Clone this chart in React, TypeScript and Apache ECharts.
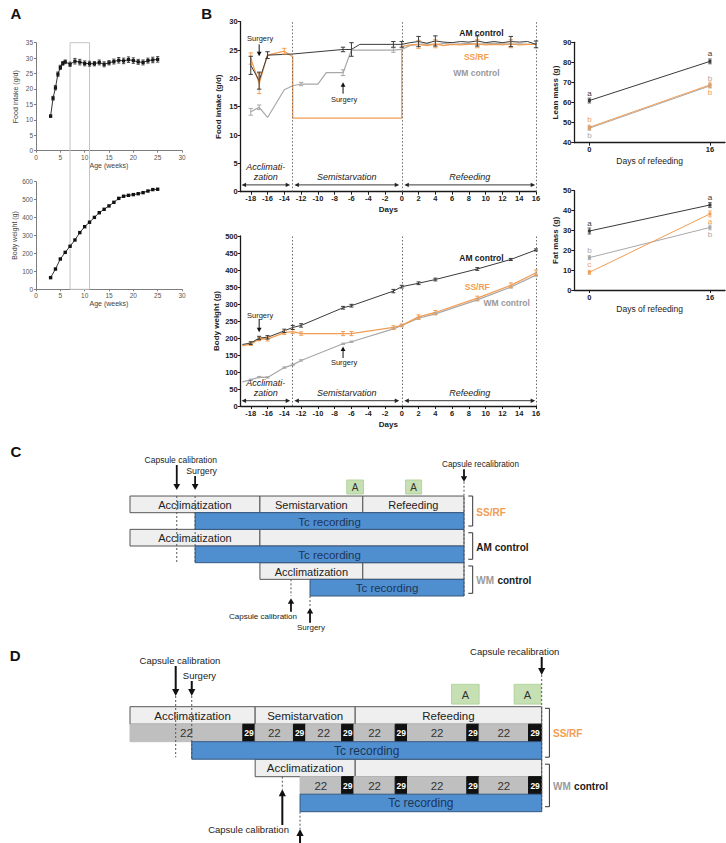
import React, { useEffect, useRef } from 'react';
import * as echarts from 'echarts';

const FONT = '"Liberation Sans", Arial, Helvetica, sans-serif';
const AM_COLOR = '#3a3a3a';
const SS_COLOR = '#f29d52';
const WM_COLOR = '#a8a8a8';

// ---------- A: colony growth ----------
const ageFoodWeeks = [3, 3.5, 4, 4.5, 5, 5.5, 6, 7, 8, 9, 10, 11, 12, 13, 14, 15, 16, 17, 18, 19, 20, 21, 22, 23, 24, 25];
const foodIntakeByAge = [11.2, 17.0, 20.4, 24.8, 27.0, 28.3, 28.8, 28.0, 29.0, 28.7, 28.3, 28.2, 28.2, 28.6, 28.0, 28.5, 28.9, 29.3, 29.1, 29.5, 29.2, 28.8, 28.6, 29.2, 29.4, 29.6];
const foodIntakeSem = [0.4, 0.6, 0.7, 0.7, 0.7, 0.6, 0.6, 0.7, 0.9, 0.9, 0.8, 0.8, 0.7, 0.8, 0.8, 0.7, 0.8, 0.9, 0.9, 0.9, 0.9, 0.8, 0.8, 0.8, 0.9, 0.9];
const ageWeightWeeks = [3, 4, 5, 6, 7, 8, 9, 10, 11, 12, 13, 14, 15, 16, 17, 18, 19, 20, 21, 22, 23, 24, 25];
const bodyWeightByAge = [65, 113, 169, 206, 240, 275, 316, 349, 374, 401, 427, 446, 465, 485, 507, 519, 524, 528, 533, 539, 548, 556, 558];
const selectedAgeWindow = [7, 11];

// ---------- B: food intake (g/d) ----------
const amFoodDays = [-18, -17, -16, -13, -7, -6, -5, -1, 0, 1, 2, 3, 4, 5, 6, 7, 8, 9, 10, 11, 12, 13, 14, 15, 16];
const amFood = [22.3, 19.6, 24.1, 24.3, 25.1, 25.1, 26.0, 26.0, 26.0, 26.3, 26.5, 26.2, 26.6, 26.4, 26.3, 26.5, 26.4, 26.6, 26.3, 26.5, 26.3, 26.5, 26.4, 26.5, 26.0];
const amFoodSem = [1.6, 1.5, 0.6, null, 0.4, 1.2, null, 0.5, 0.5, null, 0.9, null, 0.9, null, null, null, null, 0.9, null, null, null, 0.9, null, null, 0.6];
const ssFoodDays = [-18, -17, -16, -14, -13, -13, 0, 0, 1, 2, 3, 4, 5, 6, 7, 8, 9, 10, 11, 12, 13, 14, 15, 16];
const ssFood = [23.5, 19.1, 24.1, 24.8, 23.8, 13.0, 13.0, 25.6, 25.9, 26.0, 25.8, 26.1, 25.8, 26.0, 25.9, 26.0, 26.1, 25.9, 26.0, 25.9, 26.1, 25.9, 26.0, 26.0];
const ssFoodSem = [1.0, 1.8, null, 0.5, null, null, null, null, null, 0.7, null, 0.7, null, null, null, null, 0.7, null, null, null, 0.7, null, null, null];
const wmFoodDays = [-18, -17, -16, -14, -13, -12, -10, -9, -7, -6, -1, 0, 1, 2, 3, 4, 5, 6, 7, 8, 9, 10, 11, 12, 13, 14, 15, 16];
const wmFood = [14.1, 14.9, 13.1, 18.0, 18.7, 19.0, 19.0, 21.0, 21.0, 25.0, 25.0, 25.1, 25.8, 26.0, 26.1, 25.9, 26.2, 26.0, 26.1, 26.2, 26.0, 26.1, 26.2, 26.1, 26.0, 26.1, 26.0, 26.0];
const wmFoodSem = [0.6, 0.4, null, null, null, 0.3, null, null, 0.5, null, 0.4, null, null, null, null, null, null, null, null, null, null, null, null, null, null, null, null, null];

// ---------- B: body weight (g) ----------
const weightDays = [-19, -18, -17, -16, -14, -13, -12, -7, -6, -1, 0, 2, 4, 9, 13, 16];
const amWeight = [181, 185, 200, 202, 221, 231, 237, 289, 295, 338, 351, 361, 372, 403, 431, 459];
const ssWeight = [177, 182, 197, 197, 216, 219, 213, 213, 213, 231, 237, 262, 275, 317, 355, 392];
const wmWeight = [71, 77, 85, 84, 113, 121, 134, 183, 189, 227, 237, 258, 271, 312, 350, 385];
const amWeightSem = [null, 4, 5, 5, 5, 6, 5, 4, 4, 5, 4, 4, 4, 4, 3, 3];
const ssWeightSem = [null, 4, 5, 6, 6, 6, 5, 6, 6, 5, 4, 6, 6, 6, 7, 8];
const wmWeightSem = [null, 2, 2, 2, 2, 2, 2, 2, 2, 2, 2, 3, 3, 3, 3, 3];

const dayTicks = [-18, -16, -14, -12, -10, -8, -6, -4, -2, 0, 2, 4, 6, 8, 10, 12, 14, 16];
const phaseBoundaries = [-13, 0, 16];
const protocolPhases = [
  { label: 'Acclimati-\nzation', from: -19.1, to: -13.3 },
  { label: 'Semistarvation', from: -12.8, to: -0.3 },
  { label: 'Refeeding', from: 0.3, to: 15.9 },
];

// ---------- B: body composition ----------
const refeedDays = [0, 16];
const leanAm = [61.0, 80.5];
const leanSs = [47.7, 68.8];
const leanWm = [47.2, 68.3];
const leanAmSem = [1.2, 1.2];
const leanSsSem = [1.0, 1.4];
const leanWmSem = [1.0, 1.0];
const leanLettersAm = ['a', 'a'];
const leanLettersSs = ['b', 'b'];
const leanLettersWm = ['b', 'b'];
const fatAm = [29.7, 42.8];
const fatSs = [8.9, 38.3];
const fatWm = [16.3, 31.5];
const fatAmSem = [1.5, 1.2];
const fatSsSem = [1.0, 1.5];
const fatWmSem = [1.0, 1.2];
const fatLettersAm = ['a', 'a'];
const fatLettersSs = ['c', 'a'];
const fatLettersWm = ['b', 'b'];

// ---------- C: protocol schedule (position along schematic, 0–100) ----------
// [start, end, row, label]
const cPhases: [number, number, number, string][] = [
  [0, 38.9, 0, 'Acclimatization'],
  [38.9, 69.7, 0, 'Semistarvation'],
  [69.7, 100, 0, 'Refeeding'],
  [0, 38.9, 2, 'Acclimatization'],
  [38.9, 100, 2, ''],
  [38.9, 69.7, 4, 'Acclimatization'],
  [69.7, 100, 4, ''],
];
const cRecordings: [number, number, number][] = [[19.5, 100, 1], [19.5, 100, 3], [53.9, 100, 5]];
const cAssays: [number, number][] = [[64.9, 69.9], [82.5, 87.3]];
const cMarkersTop = [
  { x: 14.0, label: 'Capsule calibration' },
  { x: 19.5, label: 'Surgery' },
  { x: 100, label: 'Capsule recalibration' },
];
const cMarkersBottom = [
  { x: 48.2, label: 'Capsule calibration' },
  { x: 53.9, label: 'Surgery' },
];
const cGroups = ['SS/RF', 'AM control', 'WM control'];

// ---------- D: schedule with ambient temperature (°C) ----------
const dPhases: [number, number, number, string][] = [
  [0, 30.4, 0, 'Acclimatization'],
  [30.4, 54.7, 0, 'Semistarvation'],
  [54.7, 100, 0, 'Refeeding'],
  [30.4, 54.7, 3, 'Acclimatization'],
  [54.7, 100, 3, ''],
];
const dTemperatures: [number, number, number, number][] = [
  [0, 27.4, 1, 22], [27.4, 30.4, 1, 29], [30.4, 39.7, 1, 22], [39.7, 42.7, 1, 29],
  [42.7, 51.4, 1, 22], [51.4, 54.4, 1, 29], [54.4, 64.4, 1, 22], [64.4, 67.4, 1, 29],
  [67.4, 81.8, 1, 22], [81.8, 84.8, 1, 29], [84.8, 96.8, 1, 22], [96.8, 100, 1, 29],
  [41.3, 51.4, 4, 22], [51.4, 54.4, 4, 29], [54.4, 64.4, 4, 22], [64.4, 67.4, 4, 29],
  [67.4, 81.8, 4, 22], [81.8, 84.8, 4, 29], [84.8, 96.8, 4, 22], [96.8, 100, 4, 29],
];
const dRecordings: [number, number, number][] = [[15.0, 100, 2], [41.3, 100, 5]];
const dAssays: [number, number][] = [[78.1, 84.8], [93.3, 99.8]];
const dMarkersTop = [
  { x: 11.1, label: 'Capsule calibration' },
  { x: 15.0, label: 'Surgery' },
  { x: 100, label: 'Capsule recalibration' },
];
const dMarkersBottom = [
  { x: 37.0, label: 'Capsule calibration' },
  { x: 41.3, label: '' },
];
const dGroups = ['SS/RF', 'WM control'];

// ---------- helpers ----------
const pairs = (xs: number[], ys: number[]) => xs.map((x, i) => [x, ys[i]]);
const bars = (xs: number[], ys: number[], sem: (number | null)[]) =>
  xs.map((x, i) => (sem[i] == null ? null : [x, ys[i] - (sem[i] as number), ys[i] + (sem[i] as number)])).filter(Boolean);

function errorBars(axis: number, data: any[], color: string, cap = 2.5, width = 1) {
  return {
    type: 'custom', xAxisIndex: axis, yAxisIndex: axis, data, silent: true, z: 5, clip: false,
    encode: { x: 0, y: [1, 2] },
    renderItem: (_p: any, api: any) => {
      const x = api.value(0);
      const lo = api.coord([x, api.value(1)]);
      const hi = api.coord([x, api.value(2)]);
      const style = { stroke: color, lineWidth: width };
      return {
        type: 'group', children: [
          { type: 'line', shape: { x1: lo[0], y1: lo[1], x2: hi[0], y2: hi[1] }, style },
          { type: 'line', shape: { x1: lo[0] - cap, y1: lo[1], x2: lo[0] + cap, y2: lo[1] }, style },
          { type: 'line', shape: { x1: hi[0] - cap, y1: hi[1], x2: hi[0] + cap, y2: hi[1] }, style },
        ],
      };
    },
  };
}

function lineSeries(axis: number, data: any[], color: string, width: number, extra: any = {}) {
  return {
    type: 'line', xAxisIndex: axis, yAxisIndex: axis, data, symbol: 'none', silent: true, z: 4,
    lineStyle: { color, width }, itemStyle: { color }, ...extra,
  };
}

function segmentSeries(axis: number, segs: any[], draw: (seg: any) => { fill: string; stroke: string; text: string; textStyle: any }) {
  return {
    type: 'custom', xAxisIndex: axis, yAxisIndex: axis, silent: true, z: 3, clip: false,
    data: segs.map((s) => [s[0], s[2], s[1]]),
    encode: { x: [0, 2], y: 1 },
    renderItem: (p: any, api: any) => {
      const seg = segs[p.dataIndex];
      const a = api.coord([seg[0], seg[2]]);
      const b = api.coord([seg[1], seg[2] + 1]);
      const d = draw(seg);
      return {
        type: 'group', children: [
          { type: 'rect', shape: { x: a[0], y: a[1], width: b[0] - a[0], height: b[1] - a[1] }, style: { fill: d.fill, stroke: d.stroke, lineWidth: 1 } },
          { type: 'text', style: { text: d.text, x: (a[0] + b[0]) / 2, y: (a[1] + b[1]) / 2 + 0.5, align: 'center', verticalAlign: 'middle', fontFamily: FONT, ...d.textStyle } },
        ],
      };
    },
  };
}

function assaySeries(axis: number, boxes: [number, number][], yTop: number, yBottom: number, fontSize: number) {
  return {
    type: 'custom', xAxisIndex: axis, yAxisIndex: axis, silent: true, z: 3, clip: false,
    data: boxes.map((b) => [b[0], yTop, b[1]]),
    encode: { x: [0, 2], y: 1 },
    renderItem: (p: any, api: any) => {
      const box = boxes[p.dataIndex];
      const a = api.coord([box[0], yTop]);
      const b = api.coord([box[1], yBottom]);
      return {
        type: 'group', children: [
          { type: 'rect', shape: { x: a[0], y: a[1], width: b[0] - a[0], height: b[1] - a[1] }, style: { fill: '#c6e0b4', stroke: '#b2d59b', lineWidth: 1 } },
          { type: 'text', style: { text: 'A', x: (a[0] + b[0]) / 2, y: (a[1] + b[1]) / 2 + 0.5, align: 'center', verticalAlign: 'middle', fontFamily: FONT, fontSize, fill: '#333' } },
        ],
      };
    },
  };
}

const phaseDraw = (size: number) => (seg: any) => ({ fill: '#efefef', stroke: '#555', text: seg[3], textStyle: { fontSize: size, fill: '#222' } });
const recordingDraw = (size: number) => () => ({ fill: '#4f8fd0', stroke: '#36587f', text: 'Tc recording', textStyle: { fontSize: size, fill: '#1d3557' } });
const temperatureDraw = (seg: any) =>
  seg[3] >= 29
    ? { fill: '#111111', stroke: '#111111', text: String(seg[3]), textStyle: { fontSize: 8.5, fontWeight: 'bold', fill: '#ffffff' } }
    : { fill: '#bfbfbf', stroke: '#bfbfbf', text: String(seg[3]), textStyle: { fontSize: 11.5, fill: '#333' } };

// axis styles
const aAxis = (grid: number, min: number, max: number, interval: number, name: string, isY: boolean) => ({
  gridIndex: grid, type: 'value', min, max, interval, name, nameLocation: 'middle',
  nameGap: isY ? 17 : 11, nameRotate: isY ? 90 : 0,
  nameTextStyle: { fontFamily: FONT, fontSize: 7, color: '#444' },
  axisLine: { show: true, onZero: false, lineStyle: { color: '#7d7d7d', width: 1 } },
  axisTick: { show: true, length: 2, lineStyle: { color: '#7d7d7d' } },
  axisLabel: { fontFamily: FONT, fontSize: 6.5, color: '#555', margin: 3 },
  splitLine: { show: false },
});

const bLine = { show: true, onZero: false, lineStyle: { color: '#1a1a1a', width: 1.3 } };
const bTick = { show: true, length: 3, lineStyle: { color: '#1a1a1a', width: 1 } };
const bLabel = { fontFamily: FONT, fontSize: 7.5, fontWeight: 'bold', color: '#222', margin: 3 };
const bName = { fontFamily: FONT, fontSize: 8, fontWeight: 'bold', color: '#222' };

const bY = (grid: number, min: number, max: number, interval: number, name: string, gap: number) => ({
  gridIndex: grid, type: 'value', min, max, interval, name, nameLocation: 'middle', nameGap: gap, nameRotate: 90,
  nameTextStyle: bName, axisLine: bLine, axisTick: bTick, axisLabel: bLabel, splitLine: { show: false },
});
const bX = (grid: number, min: number, max: number, ticks: number[], name: string, gap: number, nameStyle: any) => ({
  gridIndex: grid, type: 'value', min, max, name, nameLocation: 'middle', nameGap: gap, nameTextStyle: nameStyle,
  axisLine: bLine, axisTick: { ...bTick, customValues: ticks }, axisLabel: { ...bLabel, customValues: ticks },
  splitLine: { show: false },
});
const hiddenAxis = (grid: number, min: number, max: number, inverse = false) => ({
  gridIndex: grid, type: 'value', min, max, inverse, show: false, splitLine: { show: false },
});

function groupSeries(axis: number, ys: number[], sem: number[], letters: string[], sides: string[], color: string) {
  return [
    {
      type: 'line', xAxisIndex: axis, yAxisIndex: axis, silent: true, z: 4,
      data: refeedDays.map((d, i) => ({
        value: [d, ys[i]],
        label: { show: true, formatter: letters[i], position: sides[i], distance: 2, color, fontSize: 8, fontFamily: FONT },
      })),
      symbol: 'rect', symbolSize: 3, lineStyle: { color, width: 1 }, itemStyle: { color },
    },
    errorBars(axis, refeedDays.map((d, i) => [d, ys[i] - sem[i], ys[i] + sem[i]]), color, 1.8, 0.8),
  ];
}

function buildOption() {
  const gridBase = { outerBoundsMode: 'none', containLabel: false, show: false };
  return {
    animation: false,
    backgroundColor: '#ffffff',
    grid: [
      { ...gridBase, left: 36, top: 42.7, width: 146, height: 108 },
      { ...gridBase, left: 36, top: 181.7, width: 146, height: 107.6 },
      { ...gridBase, left: 240.7, top: 21.7, width: 295.3, height: 170 },
      { ...gridBase, left: 240.7, top: 236, width: 295.3, height: 170 },
      { ...gridBase, left: 574.3, top: 42.3, width: 150.7, height: 100.4 },
      { ...gridBase, left: 574.3, top: 190.7, width: 150.7, height: 99.3 },
      { ...gridBase, left: 130, top: 462.7, width: 334, height: 133.3 },
      { ...gridBase, left: 130, top: 671.7, width: 411.7, height: 140 },
    ],
    xAxis: [
      aAxis(0, 0, 30, 5, 'Age (weeks)', false),
      aAxis(1, 0, 30, 5, 'Age (weeks)', false),
      bX(2, -19.2, 16, dayTicks, 'Days', 14, bName),
      bX(3, -19.2, 16, dayTicks, 'Days', 14, bName),
      bX(4, -2, 18, refeedDays, 'Days of refeeding', 14, { fontFamily: FONT, fontSize: 8.5, color: '#222' }),
      bX(5, -2, 18, refeedDays, 'Days of refeeding', 14, { fontFamily: FONT, fontSize: 8.5, color: '#222' }),
      hiddenAxis(6, 0, 100),
      hiddenAxis(7, 0, 100),
    ],
    yAxis: [
      aAxis(0, 0, 35, 5, 'Food intake (g/d)', true),
      aAxis(1, 0, 600, 100, 'Body weight (g)', true),
      bY(2, 0, 30, 5, 'Food intake (g/d)', 18),
      bY(3, 0, 500, 50, 'Body weight (g)', 20),
      bY(4, 40, 90, 10, 'Lean mass (g)', 13),
      bY(5, 0, 50, 10, 'Fat mass (g)', 13),
      hiddenAxis(6, -2, 6, true),
      hiddenAxis(7, -2, 6, true),
    ],
    series: [
      // A
      lineSeries(0, pairs(ageFoodWeeks, foodIntakeByAge), '#333', 1, { symbol: 'rect', symbolSize: 3.2, itemStyle: { color: '#111' } }),
      errorBars(0, bars(ageFoodWeeks, foodIntakeByAge, foodIntakeSem), '#222', 1.6, 0.8),
      lineSeries(1, pairs(ageWeightWeeks, bodyWeightByAge), '#333', 1, { symbol: 'rect', symbolSize: 3.4, itemStyle: { color: '#111' } }),
      // B food intake
      lineSeries(2, pairs(wmFoodDays, wmFood), WM_COLOR, 1.2),
      lineSeries(2, pairs(ssFoodDays, ssFood), SS_COLOR, 1.3),
      lineSeries(2, pairs(amFoodDays, amFood), AM_COLOR, 1, {
        markLine: {
          silent: true, symbol: ['none', 'none'], label: { show: false },
          lineStyle: { type: [1.5, 2], color: '#6a6a6a', width: 1 },
          data: phaseBoundaries.map((d) => ({ xAxis: d })),
        },
      }),
      errorBars(2, bars(wmFoodDays, wmFood, wmFoodSem), WM_COLOR, 2.2, 1),
      errorBars(2, bars(ssFoodDays, ssFood, ssFoodSem), SS_COLOR, 2.2, 1),
      errorBars(2, bars(amFoodDays, amFood, amFoodSem), AM_COLOR, 2.2, 1),
      // B body weight
      lineSeries(3, pairs(weightDays, wmWeight), WM_COLOR, 1.2),
      lineSeries(3, pairs(weightDays, ssWeight), SS_COLOR, 1.3),
      lineSeries(3, pairs(weightDays, amWeight), AM_COLOR, 1, {
        markLine: {
          silent: true, symbol: ['none', 'none'], label: { show: false },
          lineStyle: { type: [1.5, 2], color: '#6a6a6a', width: 1 },
          data: phaseBoundaries.map((d) => ({ xAxis: d })),
        },
      }),
      errorBars(3, bars(weightDays, wmWeight, wmWeightSem), WM_COLOR, 2, 1),
      errorBars(3, bars(weightDays, ssWeight, ssWeightSem), SS_COLOR, 2, 1),
      errorBars(3, bars(weightDays, amWeight, amWeightSem), AM_COLOR, 2, 1),
      // B lean / fat mass
      ...groupSeries(4, leanWm, leanWmSem, leanLettersWm, ['bottom', 'top'], WM_COLOR),
      ...groupSeries(4, leanSs, leanSsSem, leanLettersSs, ['top', 'bottom'], SS_COLOR),
      ...groupSeries(4, leanAm, leanAmSem, leanLettersAm, ['top', 'top'], AM_COLOR),
      ...groupSeries(5, fatWm, fatWmSem, fatLettersWm, ['top', 'bottom'], WM_COLOR),
      ...groupSeries(5, fatSs, fatSsSem, fatLettersSs, ['top', 'bottom'], SS_COLOR),
      ...groupSeries(5, fatAm, fatAmSem, fatLettersAm, ['top', 'top'], AM_COLOR),
      // C schedule
      segmentSeries(6, cPhases, phaseDraw(11)),
      segmentSeries(6, cRecordings, recordingDraw(11.5)),
      assaySeries(6, cAssays, -0.96, -0.12, 10),
      // D schedule
      segmentSeries(7, dPhases, phaseDraw(11.5)),
      segmentSeries(7, dTemperatures, temperatureDraw),
      segmentSeries(7, dRecordings, recordingDraw(12)),
      assaySeries(7, dAssays, -1.28, -0.15, 11),
    ],
  };
}

function buildAnnotations(chart: any) {
  const g: any[] = [];
  const P = (grid: number, x: number, y: number) => chart.convertToPixel({ gridIndex: grid }, [x, y]) as number[];
  const text = (t: string, x: number, y: number, opts: any = {}) =>
    g.push({ type: 'text', z: 30, silent: true, style: { text: t, x, y, align: 'center', verticalAlign: 'middle', fontFamily: FONT, fontSize: 9, fill: '#222', ...opts } });
  const line = (x1: number, y1: number, x2: number, y2: number, stroke = '#222', lineWidth = 1, lineDash: any = null) =>
    g.push({ type: 'line', z: 30, silent: true, shape: { x1, y1, x2, y2 }, style: { stroke, lineWidth, lineDash } });
  const tri = (pts: number[][], fill: string) => g.push({ type: 'polygon', z: 30, silent: true, shape: { points: pts }, style: { fill } });
  const vArrow = (x: number, yTail: number, yTip: number, w = 1.6, hl = 6, hw = 3.2, color = '#111') => {
    const dir = yTip > yTail ? 1 : -1;
    line(x, yTail, x, yTip - dir * hl * 0.8, color, w);
    tri([[x, yTip], [x - hw, yTip - dir * hl], [x + hw, yTip - dir * hl]], color);
  };
  const dashed = (x: number, y1: number, y2: number) => line(x, y1, x, y2, '#555', 1, [2, 2]);

  // panel letters
  text('A', 15.8, 13.5, { fontSize: 15, fontWeight: 'bold', fill: '#111' });
  text('B', 206.7, 13.5, { fontSize: 15, fontWeight: 'bold', fill: '#111' });
  text('C', 15.8, 451.5, { fontSize: 15, fontWeight: 'bold', fill: '#111' });
  text('D', 15.2, 655, { fontSize: 15, fontWeight: 'bold', fill: '#111' });

  // A: highlighted age window spanning both growth plots
  const boxTop = P(0, selectedAgeWindow[0], 35);
  const boxBottom = P(1, selectedAgeWindow[1], 0);
  g.push({
    type: 'rect', z: 1, silent: true,
    shape: { x: boxTop[0], y: boxTop[1], width: boxBottom[0] - boxTop[0], height: boxBottom[1] - boxTop[1] },
    style: { fill: 'none', stroke: '#c4c4c4', lineWidth: 1 },
  });

  // B: protocol phase arrows
  const phaseRow = (grid: number, yv: number) => {
    protocolPhases.forEach((ph) => {
      const a = P(grid, ph.from, yv);
      const b = P(grid, ph.to, yv);
      line(a[0] + 3, a[1], b[0] - 3, b[1], '#222', 0.9);
      tri([[a[0], a[1]], [a[0] + 4.5, a[1] - 2.2], [a[0] + 4.5, a[1] + 2.2]], '#222');
      tri([[b[0], b[1]], [b[0] - 4.5, b[1] - 2.2], [b[0] - 4.5, b[1] + 2.2]], '#222');
      text(ph.label, (a[0] + b[0]) / 2, a[1] - 3, { verticalAlign: 'bottom', fontStyle: 'italic', fontSize: 9, lineHeight: 10 });
    });
  };
  phaseRow(2, 1.2);
  phaseRow(3, 15.6);

  // B: surgery annotations
  const surgery = (grid: number, day: number, labelV: number, tailV: number, tipV: number) => {
    const l = P(grid, day, labelV);
    const t = P(grid, day, tailV);
    const h = P(grid, day, tipV);
    text('Surgery', l[0] + 1, l[1], { fontSize: 7.5 });
    vArrow(t[0], t[1], h[1], 1, 4.5, 2.4, '#111');
  };
  surgery(2, -17, 27.0, 26.0, 23.9);
  surgery(2, -7, 16.3, 17.3, 19.3);
  surgery(3, -17, 265, 256, 217);
  surgery(3, -7, 127, 141, 175);

  // B: group labels
  const groupLabel = (grid: number, x: number, y: number, t: string, color: string) => {
    const p = P(grid, x, y);
    text(t, p[0], p[1], { fontSize: 8.5, fontWeight: 'bold', fill: color });
  };
  groupLabel(2, 9.5, 28.0, 'AM control', '#1a1a1a');
  groupLabel(2, 8.9, 23.75, 'SS/RF', SS_COLOR);
  groupLabel(2, 8.9, 20.9, 'WM control', '#999');
  groupLabel(3, 9.5, 436, 'AM control', '#1a1a1a');
  groupLabel(3, 9.0, 351, 'SS/RF', SS_COLOR);
  groupLabel(3, 12.5, 304, 'WM control', '#999');

  const groupRich = {
    g: { fontFamily: FONT, fontSize: 10, fontWeight: 'bold', fill: '#9a9a9a', color: '#9a9a9a' },
    k: { fontFamily: FONT, fontSize: 10, fontWeight: 'bold', fill: '#1a1a1a', color: '#1a1a1a' },
    o: { fontFamily: FONT, fontSize: 10, fontWeight: 'bold', fill: SS_COLOR, color: SS_COLOR },
  };
  const groupText = (name: string) =>
    name === 'SS/RF' ? '{o|SS/RF}' : name === 'WM control' ? '{g|WM} {k|control}' : '{k|' + name + '}';
  const bracket = (x: number, y0: number, y1: number, name: string) => {
    g.push({ type: 'polyline', z: 30, silent: true, shape: { points: [[x, y0], [x + 4.4, y0], [x + 4.4, y1], [x, y1]] }, style: { stroke: '#333', lineWidth: 1, fill: 'none' } });
    g.push({ type: 'text', z: 30, silent: true, style: { text: groupText(name), x: x + 8, y: (y0 + y1) / 2 + 1, align: 'left', verticalAlign: 'middle', rich: groupRich } });
  };

  // C annotations
  const cRow = (r: number) => P(6, 0, r)[1];
  const cx = (v: number) => P(6, v, 0)[0];
  const cTop = cRow(0);
  const cBot = cRow(6);
  {
    const m0 = cx(cMarkersTop[0].x);
    text(cMarkersTop[0].label, m0 + 4, cTop - 36, { fontSize: 8.5 });
    vArrow(m0, cTop - 31, cTop - 6, 1.8, 6, 3.4);
    dashed(m0, cTop, cRow(4));
    const m1 = cx(cMarkersTop[1].x);
    text(cMarkersTop[1].label, m1 + 6.5, cTop - 25, { fontSize: 8.8 });
    vArrow(m1, cTop - 20, cTop - 6, 1.8, 6, 3.4);
    dashed(m1, cTop, cRow(4));
    const m2 = cx(cMarkersTop[2].x);
    text(cMarkersTop[2].label, m2 + 16.5, cTop - 31.7, { fontSize: 8.2 });
    vArrow(m2, cTop - 26.7, cTop - 14.3, 1.8, 5.5, 3.2);
    dashed(m2, cTop - 14.3, cBot);
    const b0 = cx(cMarkersBottom[0].x);
    dashed(b0, cRow(5), cBot);
    vArrow(b0, cBot + 15.7, cBot + 2.3, 1.8, 5.5, 3.2);
    text(cMarkersBottom[0].label, b0 - 28, cBot + 20.7, { fontSize: 8 });
    const b1 = cx(cMarkersBottom[1].x);
    dashed(b1, cBot, cBot + 12);
    vArrow(b1, cBot + 26.7, cBot + 12, 1.8, 5.5, 3.2);
    text(cMarkersBottom[1].label, b1 + 1, cBot + 31, { fontSize: 8 });
    const bx = cx(100) + 4.3;
    bracket(bx, cRow(0), cRow(0) + 30, cGroups[0]);
    bracket(bx, cRow(2) + 3.4, cRow(4) - 3.4, cGroups[1]);
    bracket(bx, cRow(4) + 3.3, cRow(6) - 2.7, cGroups[2]);
  }

  // D annotations
  const dRow = (r: number) => P(7, 0, r)[1];
  const dx = (v: number) => P(7, v, 0)[0];
  const dTop = dRow(0);
  const dBot = dRow(6);
  {
    const m0 = dx(dMarkersTop[0].x);
    text(dMarkersTop[0].label, m0 + 4.3, dTop - 46.7, { fontSize: 9.5 });
    vArrow(m0, dTop - 40.7, dTop - 10.7, 2, 7, 3.6);
    dashed(m0, dTop - 10.7, dRow(3) - 2);
    const m1 = dx(dMarkersTop[1].x);
    text(dMarkersTop[1].label, m1 + 7.7, dTop - 31.7, { fontSize: 9.5 });
    vArrow(m1, dTop - 25.7, dTop - 10.7, 2, 7, 3.6);
    dashed(m1, dTop - 10.7, dRow(3));
    const m2 = dx(dMarkersTop[2].x);
    text(dMarkersTop[2].label, m2 - 27, dTop - 55, { fontSize: 9.5 });
    vArrow(m2, dTop - 49.7, dTop - 31.7, 2, 7, 3.6);
    dashed(m2, dTop - 31.7, dBot);
    const b0 = dx(dMarkersBottom[0].x);
    dashed(b0, dRow(4), dRow(4) + 12.6);
    vArrow(b0, dBot + 13.3, dRow(4) + 12.6, 2, 7, 3.6);
    text(dMarkersBottom[0].label, b0 - 33.8, dBot + 17.6, { fontSize: 9.5 });
    const b1 = dx(dMarkersBottom[1].x);
    dashed(b1, dBot, dBot + 17.3);
    vArrow(b1, dBot + 40, dBot + 17.3, 2, 7, 3.6);
    const bx = dx(100) + 3.3;
    bracket(bx, dRow(0) + 1.6, dRow(3) - 2, dGroups[0]);
    bracket(bx, dRow(3) + 5, dRow(6) - 5, dGroups[1]);
  }

  return g;
}

export default function App() {
  const ref = useRef<HTMLDivElement>(null);
  useEffect(() => {
    if (!ref.current) return;
    const chart = echarts.init(ref.current, null, { renderer: 'svg' });
    chart.setOption(buildOption() as any);
    chart.setOption({ graphic: { elements: buildAnnotations(chart) } } as any);
    return () => chart.dispose();
  }, []);
  return <div ref={ref} style={{ position: 'absolute', left: 0, top: 0, width: 726, height: 843, background: '#fff' }} />;
}
